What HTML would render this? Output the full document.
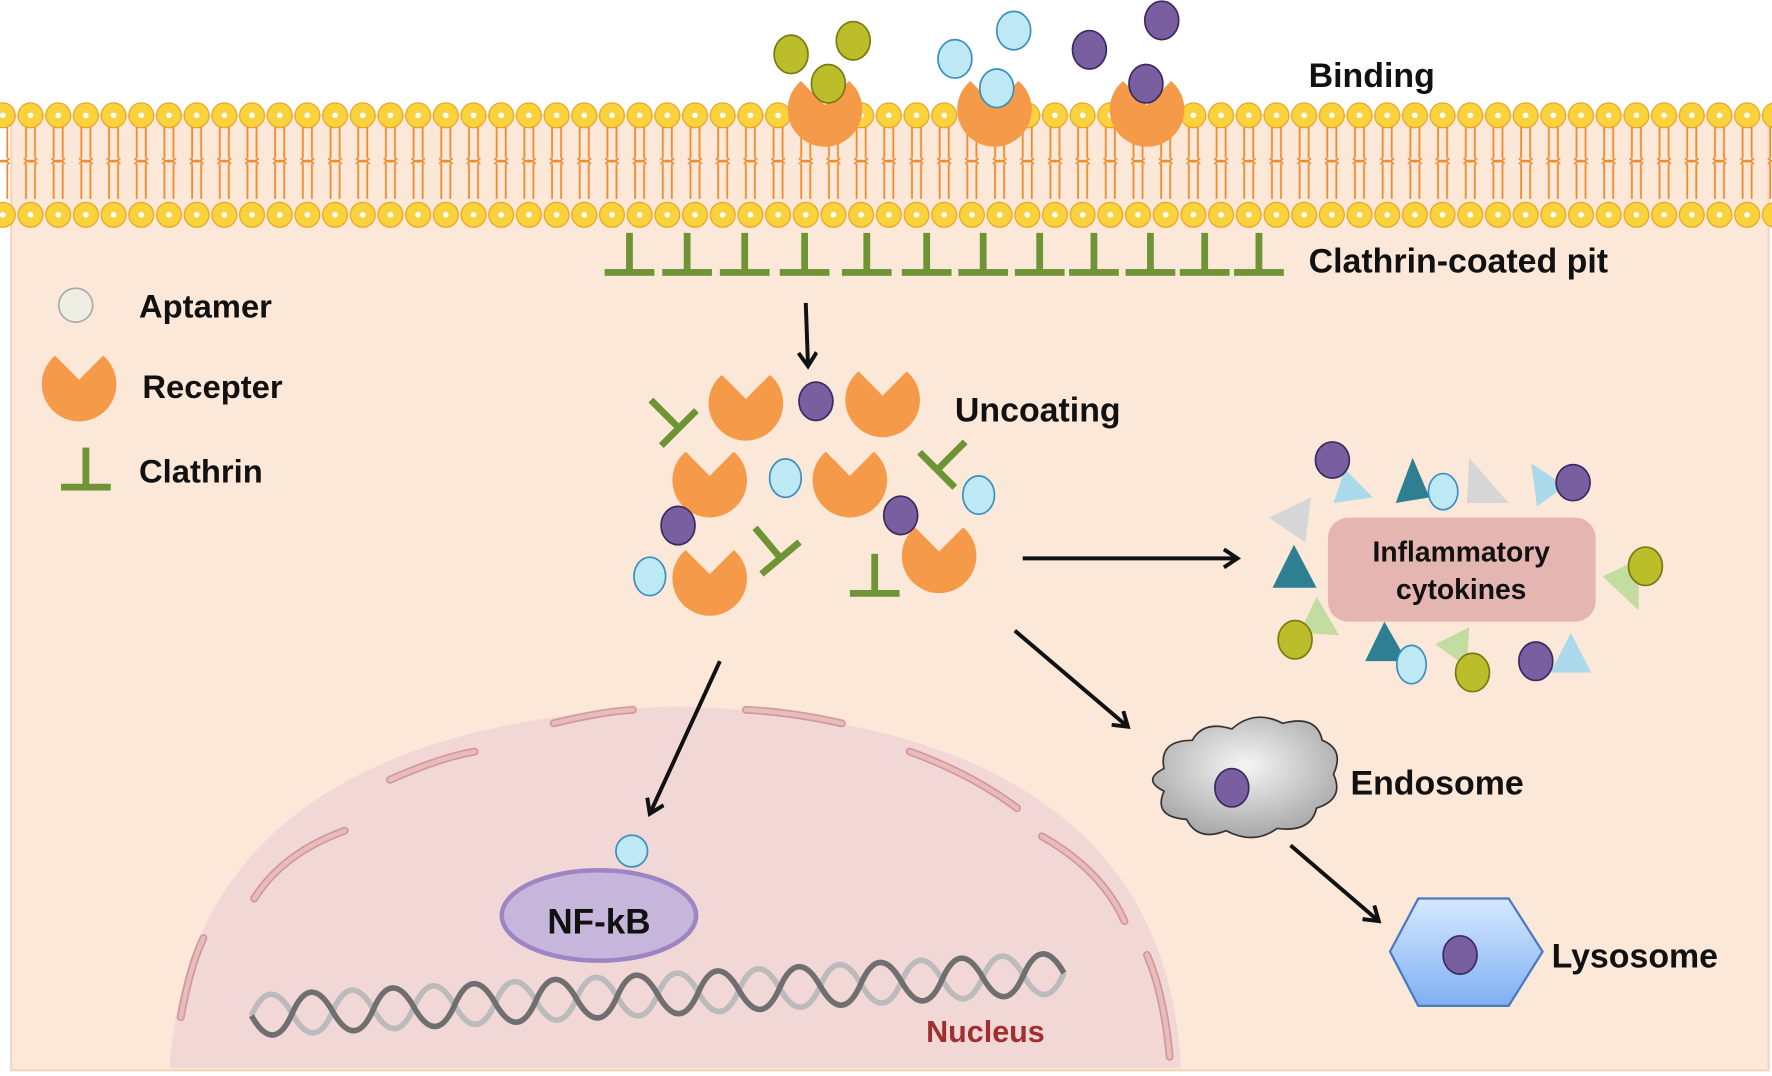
<!DOCTYPE html>
<html><head><meta charset="utf-8"><style>
html,body{margin:0;padding:0;background:#fff;}
svg{display:block;}
text{font-family:"Liberation Sans",Arial,sans-serif;font-weight:bold;}
</style></head><body>
<svg width="1772" height="1076" viewBox="0 0 1568 952" xmlns="http://www.w3.org/2000/svg">
<defs>
<pattern id="lip" x="15" y="0" width="24.5" height="952" patternUnits="userSpaceOnUse">
<path d="M8 112 L8 140 M16 112 L16 140 M8 145 L8 176 M16 145 L16 176 M6 140 Q12 146 18 140 M6 145 Q12 139 18 145" stroke="#f08a2a" stroke-width="1.6" fill="none"/>
<circle cx="12" cy="102" r="11" fill="#f9d23c" stroke="#e8a020" stroke-width="1"/>
<circle cx="12" cy="102" r="2.5" fill="#fff"/>
<circle cx="12" cy="190" r="11" fill="#f9d23c" stroke="#e8a020" stroke-width="1"/>
<circle cx="12" cy="190" r="2.5" fill="#fff"/>
</pattern>
<path id="rec" d="M21.3 -25.4 A33 33 0 1 1 -21.3 -25.4 L0 -4 Z" fill="#f59a48"/>
<g id="cla"><rect x="-22" y="-2" width="44" height="6" fill="#6e9436"/><rect x="-3" y="-34" width="6" height="34" fill="#6e9436"/></g>
<marker id="ar" markerWidth="24" markerHeight="24" refX="14" refY="9" orient="auto" markerUnits="userSpaceOnUse"><path d="M2 1 L14 9 L2 17" fill="none" stroke="#111" stroke-width="3.5"/></marker>
<linearGradient id="lys" x1="0" y1="0" x2="0" y2="1"><stop offset="0" stop-color="#d6e8ff"/><stop offset="1" stop-color="#7fb0f2"/></linearGradient>
<radialGradient id="endo" cx="0.5" cy="0.4" r="0.6"><stop offset="0" stop-color="#f5f5f5"/><stop offset="1" stop-color="#a8a8a8"/></radialGradient>
</defs>
<rect x="10" y="102" width="1555" height="845" fill="#fce8d9"/>
<rect x="10" y="102" width="1555" height="845" fill="none" stroke="#f3d5c0" stroke-width="2"/>
<rect x="0" y="85" width="1568" height="120" fill="url(#lip)"/>
<!-- nucleus -->
<path d="M150 945 Q170 640 600 625 Q1030 640 1045 945 Z" fill="#f1d7d6"/>
<g stroke="#c98a8a" stroke-width="7" fill="none" stroke-linecap="round" opacity="0.8">
<path d="M160 900 Q168 855 180 830"/><path d="M225 795 Q250 755 305 735"/><path d="M345 690 Q390 670 420 665"/><path d="M490 640 Q530 630 560 628"/><path d="M660 628 Q700 630 745 640"/><path d="M805 665 Q860 685 900 715"/><path d="M922 740 Q975 770 995 815"/><path d="M1015 845 Q1030 880 1035 935"/>
</g>
<g stroke="#e8bcbc" stroke-width="4" fill="none" stroke-linecap="round">
<path d="M160 900 Q168 855 180 830"/><path d="M225 795 Q250 755 305 735"/><path d="M345 690 Q390 670 420 665"/><path d="M490 640 Q530 630 560 628"/><path d="M660 628 Q700 630 745 640"/><path d="M805 665 Q860 685 900 715"/><path d="M922 740 Q975 770 995 815"/><path d="M1015 845 Q1030 880 1035 935"/>
</g>
<!-- DNA -->
<g transform="rotate(-3 580 880)">
<g fill="none" stroke="#bbb" stroke-width="5">
<path d="M222 880 q18 -36 36 0 t36 0 t36 0 t36 0 t36 0 t36 0 t36 0 t36 0 t36 0 t36 0 t36 0 t36 0 t36 0 t36 0 t36 0 t36 0 t36 0 t36 0 t36 0 t36 0"/>
</g>
<g fill="none" stroke="#6f6f6f" stroke-width="5">
<path d="M222 880 q18 36 36 0 t36 0 t36 0 t36 0 t36 0 t36 0 t36 0 t36 0 t36 0 t36 0 t36 0 t36 0 t36 0 t36 0 t36 0 t36 0 t36 0 t36 0 t36 0 t36 0"/>
</g>
</g>
<ellipse cx="530" cy="810" rx="86" ry="40" fill="#c7b6dc" stroke="#9d84c3" stroke-width="4"/>
<text x="530" y="826" font-size="31" text-anchor="middle" fill="#111">NF-kB</text>
<circle cx="559" cy="753" r="14" fill="#bfe8f5" stroke="#3a8fc0" stroke-width="1.5"/>
<text x="872" y="922" font-size="27" text-anchor="middle" fill="#a03030">Nucleus</text>
<!-- top aptamers/receptors -->
<use href="#rec" x="730" y="97"/><use href="#rec" x="880" y="97"/><use href="#rec" x="1015" y="97"/>
<g stroke-width="1.5">
<ellipse cx="700" cy="48" rx="15" ry="17" fill="#bcbd2a" stroke="#7a7a10"/><ellipse cx="755" cy="36" rx="15" ry="17" fill="#bcbd2a" stroke="#7a7a10"/><ellipse cx="733" cy="74" rx="15" ry="17" fill="#bcbd2a" stroke="#7a7a10"/>
<ellipse cx="845" cy="52" rx="15" ry="17" fill="#bfe8f5" stroke="#3a8fc0"/><ellipse cx="897" cy="27" rx="15" ry="17" fill="#bfe8f5" stroke="#3a8fc0"/><ellipse cx="882" cy="78" rx="15" ry="17" fill="#bfe8f5" stroke="#3a8fc0"/>
<ellipse cx="964" cy="44" rx="15" ry="17" fill="#7a5fa0" stroke="#3a2a60"/><ellipse cx="1028" cy="18" rx="15" ry="17" fill="#7a5fa0" stroke="#3a2a60"/><ellipse cx="1014" cy="74" rx="15" ry="17" fill="#7a5fa0" stroke="#3a2a60"/>
</g>
<text x="1158" y="77" font-size="30" fill="#111">Binding</text>
<!-- clathrin row -->
<g>
<use href="#cla" x="557" y="240"/><use href="#cla" x="608" y="240"/><use href="#cla" x="659" y="240"/><use href="#cla" x="712" y="240"/><use href="#cla" x="767" y="240"/><use href="#cla" x="820" y="240"/><use href="#cla" x="870" y="240"/><use href="#cla" x="920" y="240"/><use href="#cla" x="968" y="240"/><use href="#cla" x="1018" y="240"/><use href="#cla" x="1066" y="240"/><use href="#cla" x="1114" y="240"/>
</g>
<text x="1158" y="241" font-size="30" fill="#111">Clathrin-coated pit</text>
<!-- legend -->
<circle cx="67" cy="270" r="15" fill="#eeeee2" stroke="#aaa" stroke-width="1.5"/>
<text x="123" y="281" font-size="29" fill="#111">Aptamer</text>
<use href="#rec" x="70" y="340"/>
<text x="126" y="352" font-size="29" fill="#111">Recepter</text>
<use href="#cla" x="76" y="430"/>
<text x="123" y="427" font-size="29" fill="#111">Clathrin</text>
<!-- arrows -->
<g stroke="#111" stroke-width="3.5" fill="none" marker-end="url(#ar)">
<line x1="713" y1="268" x2="715" y2="324"/>
<line x1="905" y1="494" x2="1095" y2="494"/>
<line x1="898" y1="558" x2="998" y2="643"/>
<line x1="637" y1="585" x2="575" y2="720"/>
<line x1="1142" y1="748" x2="1220" y2="815"/>
</g>
<!-- uncoating cluster -->
<use href="#rec" x="660" y="357"/><use href="#rec" x="781" y="354"/><use href="#rec" x="628" y="425"/><use href="#rec" x="752" y="425"/><use href="#rec" x="628" y="512"/><use href="#rec" x="831" y="492"/>
<use href="#cla" x="0" y="0" transform="translate(600,378) rotate(-45)"/>
<use href="#cla" x="0" y="0" transform="translate(830,415) rotate(45)"/>
<use href="#cla" x="0" y="0" transform="translate(690,493) rotate(-40)"/>
<use href="#cla" x="774" y="524"/>
<text x="845" y="373" font-size="30" fill="#111">Uncoating</text>
<g stroke-width="1.5">
<ellipse cx="722" cy="355" rx="15" ry="17" fill="#7a5fa0" stroke="#3a2a60"/>
<ellipse cx="695" cy="423" rx="14" ry="17" fill="#bfe8f5" stroke="#3a8fc0"/>
<ellipse cx="866" cy="438" rx="14" ry="17" fill="#bfe8f5" stroke="#3a8fc0"/>
<ellipse cx="797" cy="456" rx="15" ry="17" fill="#7a5fa0" stroke="#3a2a60"/>
<ellipse cx="600" cy="465" rx="15" ry="17" fill="#7a5fa0" stroke="#3a2a60"/>
<ellipse cx="575" cy="510" rx="14" ry="17" fill="#bfe8f5" stroke="#3a8fc0"/>
</g>
<!-- cytokines -->
<rect x="1175" y="458" width="237" height="92" rx="18" fill="#e5b5b2"/>
<text x="1293" y="497" font-size="25" text-anchor="middle" fill="#111">Inflammatory</text>
<text x="1293" y="530" font-size="25" text-anchor="middle" fill="#111">cytokines</text>
<g>
<polygon points="1180,445 1215,440 1190,415" fill="#a9d9ea"/>
<polygon points="1235,445 1265,440 1250,405" fill="#2d7f91"/>
<polygon points="1300,405 1335,445 1298,445" fill="#d6d6d6"/>
<polygon points="1355,410 1385,430 1360,448" fill="#a9d9ea"/>
<polygon points="1160,440 1123,458 1155,480" fill="#d6d6d6"/>
<polygon points="1145,482 1165,520 1126,520" fill="#2d7f91"/>
<polygon points="1165,528 1185,562 1150,560" fill="#c3dca0"/>
<polygon points="1225,550 1245,585 1208,585" fill="#2d7f91"/>
<polygon points="1300,555 1270,570 1298,590" fill="#c3dca0"/>
<polygon points="1390,560 1408,595 1372,595" fill="#a9d9ea"/>
<polygon points="1450,495 1418,510 1450,540" fill="#c3dca0"/>
</g>
<g stroke-width="1.5">
<ellipse cx="1179" cy="407" rx="15" ry="16" fill="#7a5fa0" stroke="#3a2a60"/>
<ellipse cx="1277" cy="435" rx="13" ry="16" fill="#bfe8f5" stroke="#3a8fc0"/>
<ellipse cx="1392" cy="427" rx="15" ry="16" fill="#7a5fa0" stroke="#3a2a60"/>
<ellipse cx="1456" cy="501" rx="15" ry="17" fill="#bcbd2a" stroke="#7a7a10"/>
<ellipse cx="1146" cy="566" rx="15" ry="17" fill="#bcbd2a" stroke="#7a7a10"/>
<ellipse cx="1249" cy="588" rx="13" ry="17" fill="#bfe8f5" stroke="#3a8fc0"/>
<ellipse cx="1303" cy="595" rx="15" ry="17" fill="#bcbd2a" stroke="#7a7a10"/>
<ellipse cx="1359" cy="585" rx="15" ry="17" fill="#7a5fa0" stroke="#3a2a60"/>
</g>
<!-- endosome -->
<path d="M1030 680 q-5 -25 25 -25 q10 -18 35 -10 q20 -18 45 -5 q30 -8 35 15 q20 8 10 30 q10 22 -15 30 q-5 22 -35 18 q-20 15 -45 2 q-25 10 -35 -10 q-30 -2 -20 -25 q-20 -10 0 -20 z" fill="url(#endo)" stroke="#333" stroke-width="1.5"/>
<ellipse cx="1090" cy="697" rx="15" ry="17" fill="#7a5fa0" stroke="#3a2a60" stroke-width="1.5"/>
<text x="1195" y="703" font-size="30" fill="#111">Endosome</text>
<!-- lysosome -->
<polygon points="1255,795 1335,795 1365,842 1335,890 1255,890 1230,842" fill="url(#lys)" stroke="#4a7ac0" stroke-width="2"/>
<ellipse cx="1292" cy="845" rx="15" ry="17" fill="#7a5fa0" stroke="#3a2a60" stroke-width="1.5"/>
<text x="1373" y="856" font-size="30" fill="#111">Lysosome</text>
</svg>
</body></html>
